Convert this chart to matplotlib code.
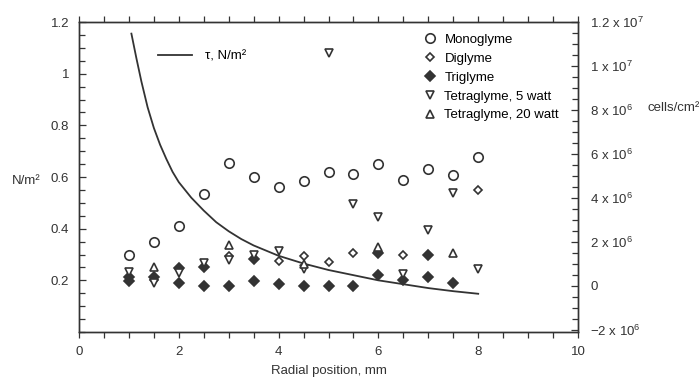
import matplotlib
matplotlib.use("Agg")
import matplotlib.pyplot as plt
from matplotlib.ticker import MultipleLocator, FixedLocator
from matplotlib.lines import Line2D

plt.rcParams['font.family'] = ['Liberation Sans', 'DejaVu Sans']
plt.rcParams['mathtext.fontset'] = 'custom'
plt.rcParams['mathtext.rm'] = 'Liberation Sans'
plt.rcParams['mathtext.it'] = 'Liberation Sans:italic'

# ---- data ----
# shear stress curve (left axis, N/m^2)
tau_x = [1.05, 1.15, 1.25, 1.375, 1.5, 1.625, 1.75, 1.875, 2.0, 2.25, 2.5, 2.75, 3.0, 3.25,
         3.5, 4.0, 4.5, 5.0, 5.5, 6.0, 6.5, 7.0, 7.5, 8.0]
tau_y = [1.155, 1.06, 0.97, 0.87, 0.79, 0.725, 0.67, 0.62, 0.58, 0.52, 0.47, 0.425, 0.39, 0.36,
         0.335, 0.295, 0.265, 0.24, 0.22, 0.20, 0.185, 0.17, 0.158, 0.148]

# cell densities (right axis, cells/cm^2, in millions)
mono_x = [1.0, 1.5, 2.0, 2.5, 3.0, 3.5, 4.0, 4.5, 5.0, 5.5, 6.0, 6.5, 7.0, 7.5, 8.0]
mono_y = [1.42, 2.01, 2.71, 4.16, 5.57, 4.93, 4.50, 4.77, 5.19, 5.07, 5.53, 4.80, 5.31, 5.03, 5.87]

di_x = [1.5, 3.0, 4.0, 4.5, 5.0, 5.5, 6.0, 6.5, 8.0]
di_y = [0.25, 1.36, 1.14, 1.35, 1.09, 1.50, 1.54, 1.39, 4.36]

tri_x = [1.0, 1.5, 2.0, 2.5, 3.0, 3.5, 4.0, 4.5, 5.0, 5.5, 6.0, 6.5, 7.0, 7.5]
tri_y = [0.21, 0.39, 0.15, 0.0, 0.0, 0.23, 0.07, 0.0, 0.01, 0.01, 0.49, 0.26, 0.39, 0.15]
tri2_x = [1.0, 2.0, 2.5, 3.5, 6.0, 7.0]
tri2_y = [0.39, 0.82, 0.87, 1.22, 1.50, 1.41]

t5_x = [1.0, 1.5, 2.0, 2.5, 3.0, 3.5, 4.0, 4.5, 5.0, 5.5, 6.0, 6.5, 7.0, 7.5, 8.0]
t5_y = [0.63, 0.14, 0.58, 1.03, 1.17, 1.40, 1.59, 0.75, 10.57, 3.70, 3.11, 0.56, 2.54, 4.22, 0.75]

t20_x = [1.5, 3.0, 4.5, 6.0, 7.5]
t20_y = [0.87, 1.86, 1.01, 1.77, 1.48]

xlabel = "Radial position, mm"
right_ticks = [-2e6, 0, 2e6, 4e6, 6e6, 8e6, 1e7, 1.2e7]
right_labels = [r"$-$2 x 10$^{6}$", "0", r"2 x 10$^{6}$", r"4 x 10$^{6}$", r"6 x 10$^{6}$",
                r"8 x 10$^{6}$", r"1 x 10$^{7}$", r"1.2 x 10$^{7}$"]

# ---- figure ----
fs = 9.5
fig = plt.figure(figsize=(7.0, 3.81), dpi=100)
ax = fig.add_axes([79/700, 1-332/381, (578-79)/700, (332-22)/381])
ax2 = ax.twinx()

c = '#333333'
ax.plot(tau_x, tau_y, color=c, lw=1.3)
ax.set_xlim(0, 10)
ax.set_ylim(0, 1.2)

ms = 1e6
kw = dict(ls='none', mec=c, mew=1.2)
ax2.plot(mono_x, [v*ms for v in mono_y], marker='o', mfc='white', ms=6.8, label='Monoglyme', **kw)
ax2.plot(di_x, [v*ms for v in di_y], marker='D', mfc='white', ms=4.5, label='Diglyme', **kw)
ax2.plot(tri_x, [v*ms for v in tri_y], marker='D', mfc=c, ms=5, label='Triglyme', **kw)
ax2.plot(tri2_x, [v*ms for v in tri2_y], marker='D', mfc=c, ms=5, **kw)
ax2.plot(t5_x, [v*ms for v in t5_y], marker='v', mfc='white', ms=6, label='Tetraglyme, 5 watt', **kw)
ax2.plot(t20_x, [v*ms for v in t20_y], marker='^', mfc='white', ms=6, label='Tetraglyme, 20 watt', **kw)
ax2.set_ylim(-2.1e6, 1.2e7)

# ticks
ax.xaxis.set_major_locator(FixedLocator([0, 2, 4, 6, 8, 10]))
ax.xaxis.set_minor_locator(MultipleLocator(0.5))
ax.yaxis.set_major_locator(FixedLocator([0.2, 0.4, 0.6, 0.8, 1.0, 1.2]))
ax.yaxis.set_minor_locator(MultipleLocator(0.05))
ax.set_yticklabels(["0.2", "0.4", "0.6", "0.8", "1", "1.2"])
ax.tick_params(axis='x', which='both', direction='out', top=True, length=4, width=0.9,
               labelsize=fs, pad=6, colors=c)
ax.tick_params(axis='y', which='major', direction='in', length=5, width=0.9, labelsize=fs, pad=7, colors=c)
ax.tick_params(axis='y', which='minor', direction='in', length=4, width=0.9, colors=c)
ax2.yaxis.set_major_locator(FixedLocator(right_ticks))
ax2.yaxis.set_minor_locator(MultipleLocator(5e5))
ax2.set_yticklabels(right_labels)
ax2.tick_params(axis='y', which='major', direction='in', length=5, width=0.9, labelsize=fs, pad=9, colors=c)
ax2.tick_params(axis='y', which='minor', direction='in', length=4, width=0.9, colors=c)

for a in (ax, ax2):
    for s in a.spines.values():
        s.set_color(c)
        s.set_linewidth(1.0)

ax.set_xlabel(xlabel, fontsize=fs, color=c, labelpad=5)
fig.text(12/700, 1-181/381, "N/m²", fontsize=fs, color=c, va='center', ha='left')
fig.text(647/700, 1-108/381, "cells/cm²", fontsize=fs, color=c, va='center', ha='left')

# legends
leg1 = ax.legend([Line2D([0], [0], color=c, lw=1.3)], ["τ, N/m²"], loc='upper left',
                 bbox_to_anchor=(0.158, 0.91), frameon=False, fontsize=fs, handlelength=2.6,
                 handletextpad=1.0, borderpad=0, borderaxespad=0)
ax2.legend(loc='upper left', bbox_to_anchor=(0.69, 0.962), frameon=False, fontsize=fs,
           handlelength=1.0, handletextpad=0.6, labelspacing=0.5, borderpad=0, borderaxespad=0)

fig.savefig("out.png", dpi=100)
